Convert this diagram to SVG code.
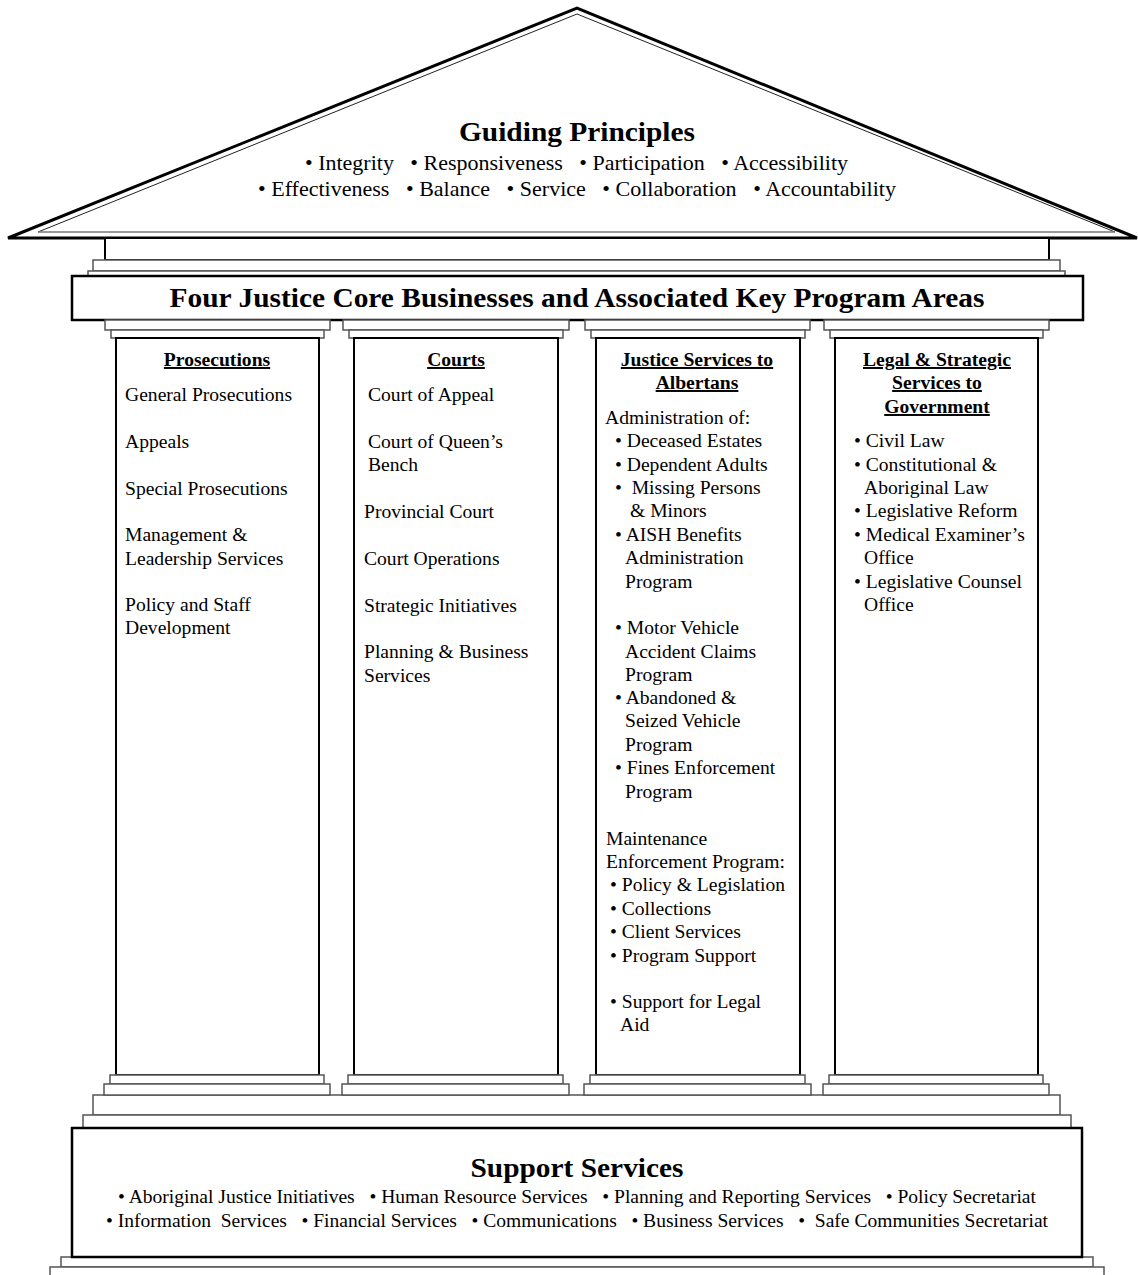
<svg xmlns="http://www.w3.org/2000/svg" width="1138" height="1275" viewBox="0 0 1138 1275">
<style>
.t{font-family:"Liberation Serif","Times New Roman",serif;fill:#000}
.b{font-weight:bold}
.u{text-decoration:underline}
.p{font-size:19.6px}
.step{fill:#fff;stroke:#555;stroke-width:1.5}
.blk{fill:#fff;stroke:#000;stroke-width:2}
.thin{fill:none;stroke:#222;stroke-width:1}
</style>
<rect width="1138" height="1275" fill="#fff"/>
<g id="structure">
  <polygon points="8,238 577,8 1137,238" fill="#fff" stroke="#000" stroke-width="3" stroke-linejoin="miter"/>
  <polyline points="38,232 577,14 1115,232" class="thin"/>
  <line x1="38" y1="232" x2="1115" y2="232" stroke="#777" stroke-width="1.5"/>
  <path d="M105,239 V260 H1049 V239" fill="#fff" stroke="#000" stroke-width="2"/>
  <rect x="93" y="260" width="967" height="11" class="step"/>
  <rect x="88" y="271" width="977" height="5" class="step"/>
  <rect x="72" y="276" width="1011" height="44" fill="#fff" stroke="#000" stroke-width="2.5"/>
  <rect x="93" y="1095" width="967" height="20" class="step"/>
  <rect x="83" y="1115" width="988" height="13" class="step"/>
  <rect x="61" y="1257" width="1032" height="10" class="step"/>
  <rect x="50" y="1267" width="1054" height="14" class="step"/>
  <rect x="72" y="1128" width="1010" height="129" fill="#fff" stroke="#000" stroke-width="2.5"/>
</g>
<g id="roof">
  <text class="t b" x="577" y="141" font-size="27" text-anchor="middle" textLength="236" lengthAdjust="spacingAndGlyphs">Guiding Principles</text>
  <text class="t" x="305" y="170" font-size="21" xml:space="preserve" textLength="543" lengthAdjust="spacingAndGlyphs">• Integrity   • Responsiveness   • Participation   • Accessibility</text>
  <text class="t" x="258" y="196" font-size="21" xml:space="preserve" textLength="638" lengthAdjust="spacingAndGlyphs">• Effectiveness   • Balance   • Service   • Collaboration   • Accountability</text>
</g>
<g id="banner">
  <text class="t b" x="577" y="307" font-size="28" text-anchor="middle" textLength="815" lengthAdjust="spacingAndGlyphs">Four Justice Core Businesses and Associated Key Program Areas</text>
</g>
<g id="pillar-prosecutions">
  <rect x="105" y="320" width="225" height="10" class="step"/>
  <rect x="111" y="330" width="213" height="8" class="step"/>
  <rect x="116" y="338" width="203" height="737" class="blk"/>
  <rect x="110" y="1075" width="214" height="9" class="step"/>
  <rect x="104" y="1084" width="226" height="11" class="step"/>
  <text class="t p b u" x="217" y="366" text-anchor="middle">Prosecutions</text>
  <g class="t p">
    <text x="125" y="401">General Prosecutions</text>
    <text x="125" y="448">Appeals</text>
    <text x="125" y="495">Special Prosecutions</text>
    <text x="125" y="541">Management &amp;</text>
    <text x="125" y="565">Leadership Services</text>
    <text x="125" y="611">Policy and Staff</text>
    <text x="125" y="634">Development</text>
  </g>
</g>
<g id="pillar-courts">
  <rect x="343" y="320" width="226" height="10" class="step"/>
  <rect x="349" y="330" width="214" height="8" class="step"/>
  <rect x="354" y="338" width="204" height="737" class="blk"/>
  <rect x="348" y="1075" width="215" height="9" class="step"/>
  <rect x="342" y="1084" width="227" height="11" class="step"/>
  <text class="t p b u" x="456" y="366" text-anchor="middle">Courts</text>
  <g class="t p">
    <text x="368" y="401">Court of Appeal</text>
    <text x="368" y="448">Court of Queen’s</text>
    <text x="368" y="471">Bench</text>
    <text x="364" y="518">Provincial Court</text>
    <text x="364" y="565">Court Operations</text>
    <text x="364" y="612">Strategic Initiatives</text>
    <text x="364" y="658">Planning &amp; Business</text>
    <text x="364" y="682">Services</text>
  </g>
</g>
<g id="pillar-justice-services">
  <rect x="585" y="320" width="225" height="10" class="step"/>
  <rect x="591" y="330" width="214" height="8" class="step"/>
  <rect x="596" y="338" width="204" height="737" class="blk"/>
  <rect x="590" y="1075" width="215" height="9" class="step"/>
  <rect x="584" y="1084" width="227" height="11" class="step"/>
  <text class="t p b u" x="697" y="366" text-anchor="middle">Justice Services to</text>
  <text class="t p b u" x="697" y="389" text-anchor="middle">Albertans</text>
  <g class="t p">
    <text x="605" y="424">Administration of:</text>
    <text x="615" y="447">• Deceased Estates</text>
    <text x="615" y="471">• Dependent Adults</text>
    <text x="615" y="494">•&#160; Missing Persons</text>
    <text x="630" y="517">&amp; Minors</text>
    <text x="615" y="541">• AISH Benefits</text>
    <text x="625" y="564">Administration</text>
    <text x="625" y="588">Program</text>
    <text x="615" y="634">• Motor Vehicle</text>
    <text x="625" y="658">Accident Claims</text>
    <text x="625" y="681">Program</text>
    <text x="615" y="704">• Abandoned &amp;</text>
    <text x="625" y="727">Seized Vehicle</text>
    <text x="625" y="751">Program</text>
    <text x="615" y="774">• Fines Enforcement</text>
    <text x="625" y="798">Program</text>
    <text x="606" y="845">Maintenance</text>
    <text x="606" y="868">Enforcement Program:</text>
    <text x="610" y="891">• Policy &amp; Legislation</text>
    <text x="610" y="915">• Collections</text>
    <text x="610" y="938">• Client Services</text>
    <text x="610" y="962">• Program Support</text>
    <text x="610" y="1008">• Support for Legal</text>
    <text x="620" y="1031">Aid</text>
  </g>
</g>
<g id="pillar-legal-strategic">
  <rect x="824" y="320" width="225" height="10" class="step"/>
  <rect x="830" y="330" width="213" height="8" class="step"/>
  <rect x="835" y="338" width="203" height="737" class="blk"/>
  <rect x="829" y="1075" width="214" height="9" class="step"/>
  <rect x="823" y="1084" width="226" height="11" class="step"/>
  <text class="t p b u" x="937" y="366" text-anchor="middle">Legal &amp; Strategic</text>
  <text class="t p b u" x="937" y="389" text-anchor="middle">Services to</text>
  <text class="t p b u" x="937" y="413" text-anchor="middle">Government</text>
  <g class="t p">
    <text x="854" y="447">• Civil Law</text>
    <text x="854" y="471">• Constitutional &amp;</text>
    <text x="864" y="494">Aboriginal Law</text>
    <text x="854" y="517">• Legislative Reform</text>
    <text x="854" y="541">• Medical Examiner’s</text>
    <text x="864" y="564">Office</text>
    <text x="854" y="588">• Legislative Counsel</text>
    <text x="864" y="611">Office</text>
  </g>
</g>
<g id="support-services">
  <text class="t b" x="577" y="1177" font-size="27" text-anchor="middle" textLength="213" lengthAdjust="spacingAndGlyphs">Support Services</text>
  <text class="t" x="118" y="1203" font-size="18" xml:space="preserve" textLength="918" lengthAdjust="spacingAndGlyphs">• Aboriginal Justice Initiatives   • Human Resource Services   • Planning and Reporting Services   • Policy Secretariat</text>
  <text class="t" x="106" y="1227" font-size="18" xml:space="preserve" textLength="942" lengthAdjust="spacingAndGlyphs">• Information  Services   • Financial Services   • Communications   • Business Services   •  Safe Communities Secretariat</text>
</g>
<g id="connectors"></g>
</svg>
